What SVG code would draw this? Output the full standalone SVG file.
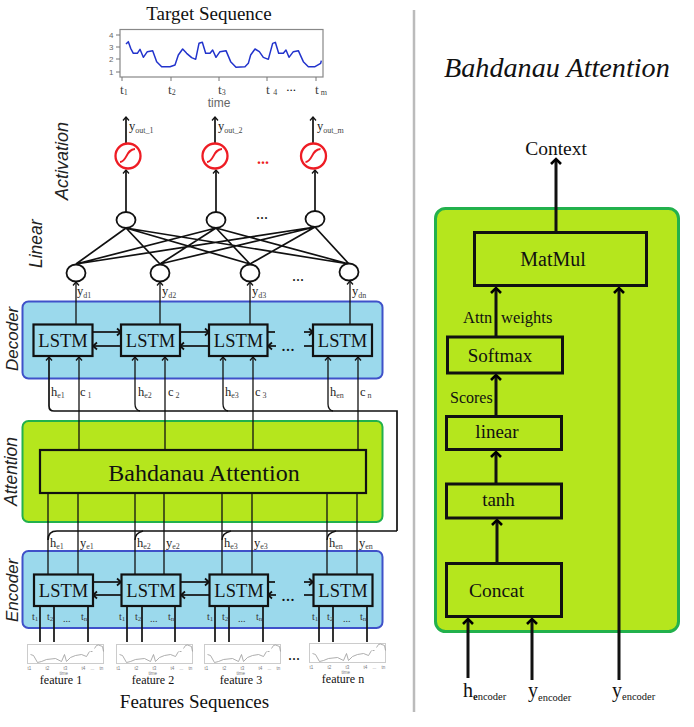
<svg xmlns="http://www.w3.org/2000/svg" width="694" height="727" viewBox="0 0 694 727">
<style>
text{font-family:"Liberation Serif",serif;fill:#111}
.a{font-family:"Liberation Sans",sans-serif;font-style:italic;font-size:18px;fill:#222}
.m{text-anchor:middle}
.ls{font-size:18.500px;text-anchor:middle}
.r{font-size:19.500px;text-anchor:middle}
.l{font-size:12.500px;fill:#222}
.s{font-size:8px;fill:#444}
.t{font-size:13.500px;fill:#444}
.u{font-size:10px;fill:#333}
.v{font-size:7px;fill:#444}
.d{font-size:16px;text-anchor:middle}
.pb{fill:#9bd9ec;stroke:#3f51c9;stroke-width:2}
.pg{fill:#b5e61d;stroke:#22b14c;stroke-width:2}
.pg2{fill:#b5e61d;stroke:#22b14c;stroke-width:3}
.b{fill:#9bd9ec;stroke:#111;stroke-width:2.200}
.g{fill:#b5e61d;stroke:#111;stroke-width:2.200}
.g3{fill:#b5e61d;stroke:#111;stroke-width:3}
.n{fill:#fff;stroke:#111;stroke-width:1.800}
.c line,.c path{fill:none;stroke:#111}
.th{stroke-width:1.300}
.mid{stroke-width:1.700}
.thk{stroke-width:3}
.mk{stroke-width:1.700}
.f{fill:none;stroke:#999;stroke-width:.8}
.ft{font-family:"Liberation Sans",sans-serif;font-size:4.500px;fill:#777}
.yt{font-family:"Liberation Sans",sans-serif;font-size:8px;fill:#666}
.ac{fill:#fff;stroke:#ee1c24;stroke-width:2.300}
.as{fill:none;stroke:#ee1c24;stroke-width:2}
</style>
<defs>
<marker id="sm" markerUnits="userSpaceOnUse" markerWidth="8" markerHeight="8" viewBox="0 0 8 8" refX="7" refY="4" orient="auto"><path d="M3.500,1 L7,4 L3.500,7" fill="none" stroke="#111" stroke-width="1.300"/></marker>
<marker id="md" markerUnits="userSpaceOnUse" markerWidth="10" markerHeight="10" viewBox="0 0 10 10" refX="9" refY="5" orient="auto"><path d="M5,1.500 L9,5 L5,8.500" fill="none" stroke="#111" stroke-width="1.800"/></marker>
<marker id="lg" markerUnits="userSpaceOnUse" markerWidth="16" markerHeight="16" viewBox="0 0 16 16" refX="13" refY="8" orient="auto"><path d="M8,3 L13,8 L8,13" fill="none" stroke="#000" stroke-width="2.600"/></marker>
<g id="mini">
<rect x="0" y="0" width="76" height="19" fill="#fff" stroke="#ccc" stroke-width="1"/>
<path class="f" d="M3,10 L6,11 L10,18 L14,17 L19,15 L28,14 L34,17 L37,10 L39,17 L43,13 L48,11 L54,10 L59,12 L62,7 M63,7 L65,7 M67,4 L69,1 L71,.5 L75,2 L76,7"/>
<text class="ft" x="0" y="25">t1</text><text class="ft" x="18" y="25">t2</text><text class="ft" x="36" y="25">t3</text><text class="ft" x="54" y="25">t4</text><text class="ft" x="63" y="25">...</text><text class="ft" x="72" y="25">tn</text>
<text class="ft" x="32" y="30">time</text>
</g>
</defs>
<rect width="694" height="727" fill="#fff"/>
<line x1="414" y1="10" x2="414" y2="712" stroke="#bbb" stroke-width="2.500"/>

<g id="target-chart">
<text class="m" x="209" y="20" font-size="19">Target Sequence</text>
<rect x="120" y="29.500" width="203" height="47.500" fill="#fff" stroke="#888" stroke-width="1.200"/>
<g transform="scale(.33333)"><path fill="none" stroke="#2233cc" stroke-width="4.500" stroke-linejoin="round" d="M378,132 L385,125 L392,145 L400,160 L412,160 L420,148 L430,172 L442,155 L458,152 L470,185 L485,200 L510,200 L525,195 L535,165 L548,147 L560,160 L575,173 L587,178 L597,130 L607,127 L617,160 L630,160 L638,150 L648,172 L660,155 L678,152 L692,185 L708,202 L735,200 L745,190 L752,165 L765,147 L778,155 L790,172 L805,178 L818,130 L826,127 L836,160 L850,160 L858,150 L867,172 L880,155 L895,152 L910,185 L925,200 L945,200 L962,190 L964,182"/></g>
<path fill="none" stroke="#777" d="M116,35H120M116,47H120M116,59H120M116,72H120M122,77V81M171,77V81M219,77V81M267,77V81M316,77V81"/>
<text class="yt" x="109" y="38">4</text><text class="yt" x="109" y="50">3</text><text class="yt" x="109" y="62">2</text><text class="yt" x="109" y="75">1</text>
<text class="t" x="120" y="94">t<tspan class="s" dy="1">1</tspan></text>
<text class="t" x="168" y="94">t<tspan class="s" dy="1">2</tspan></text>
<text class="t" x="218" y="94">t<tspan class="s" dy="1">3</tspan></text>
<text class="t" x="266" y="94">t <tspan class="s" dy="1">4</tspan></text>
<text class="d" x="291" y="91" style="font-size:13px">...</text>
<text class="t" x="315" y="94">t<tspan class="s" dy="1"> m</tspan></text>
<text class="m" x="219" y="107" font-size="12" style="font-family:'Liberation Sans',sans-serif;fill:#666">time</text>
</g>

<text class="a" transform="translate(68,200) rotate(-90)">Activation</text>
<text class="a" transform="translate(42,268) rotate(-90)" style="font-size:17.500px">Linear</text>
<text class="a" transform="translate(18,371) rotate(-90)" style="font-size:17px">Decoder</text>
<text class="a" transform="translate(17,506) rotate(-90)" style="font-size:17.500px">Attention</text>
<text class="a" transform="translate(18,622) rotate(-90)" style="font-size:17px">Encoder</text>

<g id="decoder-panel"><rect class="pb" x="22.500" y="301.500" width="360" height="77" rx="6"/></g>
<g id="attention-panel"><rect class="pg" x="22.500" y="421" width="360" height="101" rx="6"/></g>
<g id="encoder-panel"><rect class="pb" x="22.500" y="551" width="360" height="77" rx="6"/></g>

<g id="connectors" class="c">
<line class="mid" x1="126" y1="143" x2="126" y2="117" marker-end="url(#sm)"/>
<line class="mid" x1="215" y1="143" x2="215" y2="117" marker-end="url(#sm)"/>
<line class="mid" x1="313" y1="143" x2="313" y2="117" marker-end="url(#sm)"/>
<line class="mid" x1="126" y1="212" x2="126" y2="170" marker-end="url(#sm)"/>
<line class="mid" x1="216" y1="212" x2="216" y2="170" marker-end="url(#sm)"/>
<line class="mid" x1="315" y1="211" x2="315" y2="170" marker-end="url(#sm)"/>
<path class="mid" d="M126,228L76,264M126,228L160,264M126,228L250,264M126,228L349,264M216,228L76,264M216,228L160,264M216,228L250,264M216,228L349,264M315,227L76,264M315,227L160,264M315,227L250,264M315,227L349,264"/>
<line class="th" x1="76" y1="324" x2="76" y2="282" marker-end="url(#sm)"/>
<line class="th" x1="160" y1="324" x2="160" y2="282" marker-end="url(#sm)"/>
<line class="th" x1="250" y1="324" x2="250" y2="282" marker-end="url(#sm)"/>
<line class="th" x1="350" y1="324" x2="350" y2="281" marker-end="url(#sm)"/>
<line class="mk" x1="93" y1="332" x2="121" y2="332" marker-end="url(#md)"/>
<line class="mk" x1="121" y1="346" x2="93" y2="346" marker-end="url(#md)"/>
<line class="mk" x1="180" y1="332" x2="209" y2="332" marker-end="url(#md)"/>
<line class="mk" x1="209" y1="346" x2="180" y2="346" marker-end="url(#md)"/>
<line class="mk" x1="268" y1="332" x2="275" y2="332"/>
<line class="mk" x1="276" y1="346" x2="268" y2="346" marker-end="url(#md)"/>
<line class="mk" x1="304" y1="332" x2="313" y2="332" marker-end="url(#md)"/>
<line class="mk" x1="304" y1="346" x2="313" y2="346"/>
<line class="mk" x1="93" y1="582" x2="121" y2="582" marker-end="url(#md)"/>
<line class="mk" x1="121" y1="595" x2="93" y2="595" marker-end="url(#md)"/>
<line class="mk" x1="181" y1="582" x2="209" y2="582" marker-end="url(#md)"/>
<line class="mk" x1="209" y1="595" x2="181" y2="595" marker-end="url(#md)"/>
<line class="mk" x1="268" y1="582" x2="275" y2="582"/>
<line class="mk" x1="276" y1="595" x2="268" y2="595" marker-end="url(#md)"/>
<line class="mk" x1="304" y1="582" x2="313" y2="582" marker-end="url(#md)"/>
<line class="mk" x1="304" y1="595" x2="313" y2="595"/>
<path class="mid" d="M397,531 H57 Q48,531 48,540"/>
<path class="mid" d="M397,531 V411 H54 Q49,411 49,406 V357" marker-end="url(#sm)"/>
<path class="th" d="M140,411 Q135,410 135,404 V357" marker-end="url(#sm)"/>
<path class="th" d="M228,411 Q223,410 223,404 V357" marker-end="url(#sm)"/>
<path class="th" d="M333,411 Q328,410 328,404 V357" marker-end="url(#sm)"/>
<path class="th" d="M143,531 Q135,533 135,540"/>
<path class="th" d="M231,531 Q222,533 222,540"/>
<path class="th" d="M336,531 Q327,533 327,540"/>
<line class="th" x1="79" y1="450" x2="79" y2="357" marker-end="url(#sm)"/>
<line class="th" x1="165" y1="450" x2="165" y2="357" marker-end="url(#sm)"/>
<line class="th" x1="253" y1="450" x2="253" y2="357" marker-end="url(#sm)"/>
<line class="th" x1="358" y1="450" x2="358" y2="357" marker-end="url(#sm)"/>
<path class="th" d="M48,493V574M78,493V574M135,493V574M164,493V574M222,493V574M252,493V574M327,493V574M357,493V574"/>
<path class="mid" d="M40,606V642M54,606V642M88,606V642M127,606V642M142,606V642M175,606V642M215,606V642M229,606V642M263,606V642M319,606V642M333,606V642M367,606V642"/>
</g>

<g id="act1"><circle class="ac" cx="128" cy="156" r="12.500"/><path class="as" d="M120,162 C127,162 126,149 135,149"/></g>
<g id="act2"><circle class="ac" cx="215" cy="156" r="12.500"/><path class="as" d="M207,162 C214,162 213,149 222,149"/></g>
<g id="act3"><circle class="ac" cx="313.500" cy="156" r="12.500"/><path class="as" d="M305.500,162 C312.500,162 311.500,149 320.500,149"/></g>

<g id="lin-top"><ellipse class="n" cx="126" cy="220" rx="9.500" ry="8"/><ellipse class="n" cx="216" cy="220" rx="9.500" ry="8"/><ellipse class="n" cx="315" cy="219" rx="9.500" ry="8"/></g>
<g id="lin-bottom"><ellipse class="n" cx="76" cy="273" rx="9.500" ry="8.500"/><ellipse class="n" cx="160" cy="273" rx="9.500" ry="8.500"/><ellipse class="n" cx="250" cy="273" rx="9.500" ry="8.500"/><ellipse class="n" cx="349" cy="272" rx="9.500" ry="8.500"/></g>

<g id="dec1"><rect class="b" x="33.500" y="324.500" width="59" height="31.500"/><text class="ls" x="63" y="347">LSTM</text></g>
<g id="dec2"><rect class="b" x="121" y="324.500" width="59" height="31.500"/><text class="ls" x="150.500" y="347">LSTM</text></g>
<g id="dec3"><rect class="b" x="209" y="324.500" width="58.500" height="31.500"/><text class="ls" x="238.500" y="347">LSTM</text></g>
<g id="dec4"><rect class="b" x="313" y="324.500" width="59" height="31.500"/><text class="ls" x="342.500" y="347">LSTM</text></g>

<g id="bahdanau-block"><rect class="g" x="40" y="450" width="326" height="43"/><text class="m" x="204" y="481" font-size="24">Bahdanau Attention</text></g>

<g id="enc1"><rect class="b" x="34" y="574.500" width="59" height="31.500"/><text class="ls" x="63.500" y="597">LSTM</text></g>
<g id="enc2"><rect class="b" x="121.500" y="574.500" width="59" height="31.500"/><text class="ls" x="151" y="597">LSTM</text></g>
<g id="enc3"><rect class="b" x="209.500" y="574.500" width="58.500" height="31.500"/><text class="ls" x="239" y="597">LSTM</text></g>
<g id="enc4"><rect class="b" x="313.500" y="574.500" width="59" height="31.500"/><text class="ls" x="343" y="597">LSTM</text></g>

<g id="labels-left">
<text class="l" x="129" y="130">y<tspan class="s" dy="3">out_1</tspan></text>
<text class="l" x="218" y="130">y<tspan class="s" dy="3">out_2</tspan></text>
<text class="l" x="317" y="130">y<tspan class="s" dy="3">out_m</tspan></text>
<text class="d" x="263" y="164" style="fill:#ee1c24;font-weight:bold">...</text>
<text class="d" x="262" y="219">...</text>
<text class="d" x="298" y="281">...</text>
<text class="l" x="77" y="295">y<tspan class="s" dy="3">d1</tspan></text>
<text class="l" x="162" y="295">y<tspan class="s" dy="3">d2</tspan></text>
<text class="l" x="252" y="295">y<tspan class="s" dy="3">d3</tspan></text>
<text class="l" x="352" y="295">y<tspan class="s" dy="3">dn</tspan></text>
<text class="d" x="288" y="351" style="font-size:18px">...</text>
<text class="l" x="51" y="396">h<tspan class="s" dy="2">e1</tspan></text>
<text class="l" x="80" y="396">c<tspan class="s" dy="2"> 1</tspan></text>
<text class="l" x="138" y="396">h<tspan class="s" dy="2">e2</tspan></text>
<text class="l" x="168" y="396">c<tspan class="s" dy="2"> 2</tspan></text>
<text class="l" x="225" y="396">h<tspan class="s" dy="2">e3</tspan></text>
<text class="l" x="255" y="396">c<tspan class="s" dy="2"> 3</tspan></text>
<text class="l" x="330" y="396">h<tspan class="s" dy="2">en</tspan></text>
<text class="l" x="360" y="396">c<tspan class="s" dy="2"> n</tspan></text>
<text class="l" x="50" y="547">h<tspan class="s" dy="2">e1</tspan></text>
<text class="l" x="80" y="547">y<tspan class="s" dy="2">e1</tspan></text>
<text class="l" x="137" y="547">h<tspan class="s" dy="2">e2</tspan></text>
<text class="l" x="166" y="547">y<tspan class="s" dy="2">e2</tspan></text>
<text class="l" x="224" y="547">h<tspan class="s" dy="2">e3</tspan></text>
<text class="l" x="254" y="547">y<tspan class="s" dy="2">e3</tspan></text>
<text class="l" x="329" y="547">h<tspan class="s" dy="2">en</tspan></text>
<text class="l" x="359" y="547">y<tspan class="s" dy="2">en</tspan></text>
<text class="d" x="288" y="601" style="font-size:18px">...</text>
<text class="u" x="32" y="620">t<tspan class="v" dy="1">1</tspan></text><text class="u" x="47" y="620">t<tspan class="v" dy="1">2</tspan></text><text class="u" x="63" y="622">...</text><text class="u" x="81" y="620">t<tspan class="v" dy="1">n</tspan></text>
<text class="u" x="119" y="620">t<tspan class="v" dy="1">1</tspan></text><text class="u" x="135" y="620">t<tspan class="v" dy="1">2</tspan></text><text class="u" x="150" y="622">...</text><text class="u" x="168" y="620">t<tspan class="v" dy="1">n</tspan></text>
<text class="u" x="207" y="620">t<tspan class="v" dy="1">1</tspan></text><text class="u" x="222" y="620">t<tspan class="v" dy="1">2</tspan></text><text class="u" x="238" y="622">...</text><text class="u" x="256" y="620">t<tspan class="v" dy="1">n</tspan></text>
<text class="u" x="312" y="620">t<tspan class="v" dy="1">1</tspan></text><text class="u" x="327" y="620">t<tspan class="v" dy="1">2</tspan></text><text class="u" x="343" y="622">...</text><text class="u" x="360" y="620">t<tspan class="v" dy="1">n</tspan></text>
</g>

<g id="feature1"><use href="#mini" x="27.500" y="644.500"/><text class="m" x="61" y="684" font-size="12">feature 1</text></g>
<g id="feature2"><use href="#mini" x="116.500" y="644.500"/><text class="m" x="153" y="684" font-size="12">feature 2</text></g>
<g id="feature3"><use href="#mini" x="204.500" y="644.500"/><text class="m" x="241" y="684" font-size="12">feature 3</text></g>
<text class="d" x="294" y="660">...</text>
<g id="feature4"><use href="#mini" x="309.500" y="643.500"/><text class="m" x="343" y="683" font-size="12">feature n</text></g>
<text class="m" x="194.500" y="708" font-size="19">Features Sequences</text>

<g id="right-panel">
<text x="444" y="77" font-size="28.200" font-style="italic">Bahdanau Attention</text>
<rect class="pg2" x="435.500" y="208.500" width="243" height="423" rx="10"/>
</g>
<g id="right-connectors" class="c">
<line class="thk" x1="556" y1="232" x2="556" y2="159" marker-end="url(#lg)"/>
<line class="thk" x1="496" y1="337" x2="496" y2="288" marker-end="url(#lg)"/>
<line class="thk" x1="496" y1="416" x2="496" y2="375" marker-end="url(#lg)"/>
<line class="thk" x1="496" y1="483" x2="496" y2="452" marker-end="url(#lg)"/>
<line class="thk" x1="497" y1="563" x2="497" y2="520" marker-end="url(#lg)"/>
<line class="thk" x1="468" y1="678" x2="468" y2="619" marker-end="url(#lg)"/>
<line class="thk" x1="532" y1="680" x2="532" y2="619" marker-end="url(#lg)"/>
<line class="thk" x1="619" y1="680" x2="619" y2="288" marker-end="url(#lg)"/>
</g>
<g id="matmul"><rect class="g3" x="474.500" y="232.500" width="172" height="53"/><text class="r" x="553" y="266" style="font-size:20px">MatMul</text></g>
<g id="softmax"><rect class="g3" x="447.500" y="337" width="115" height="36"/><text class="r" x="500" y="362" style="font-size:19px">Softmax</text></g>
<g id="linear"><rect class="g3" x="446.500" y="416.500" width="115" height="33"/><text class="r" x="497" y="438" style="font-size:19px">linear</text></g>
<g id="tanh"><rect class="g3" x="446.500" y="484" width="115" height="34"/><text class="r" x="498.500" y="506" style="font-size:19px">tanh</text></g>
<g id="concat"><rect class="g3" x="446.500" y="563.500" width="115" height="53"/><text class="r" x="496.500" y="597">Concat</text></g>
<g id="right-labels">
<text class="r" x="556" y="155">Context</text>
<text x="463" y="323" font-size="16.500">Attn</text>
<text x="501" y="323" font-size="16.500">weights</text>
<text x="450" y="403" font-size="16">Scores</text>
<text x="463" y="697" font-size="20">h<tspan font-size="10.500" dy="3"><tspan font-weight="bold">e</tspan>ncoder</tspan></text>
<text x="528" y="697" font-size="20">y<tspan font-size="10.500" dy="4">encoder</tspan></text>
<text x="612" y="697" font-size="20">y<tspan font-size="10.500" dy="3">encoder</tspan></text>
</g>
</svg>
